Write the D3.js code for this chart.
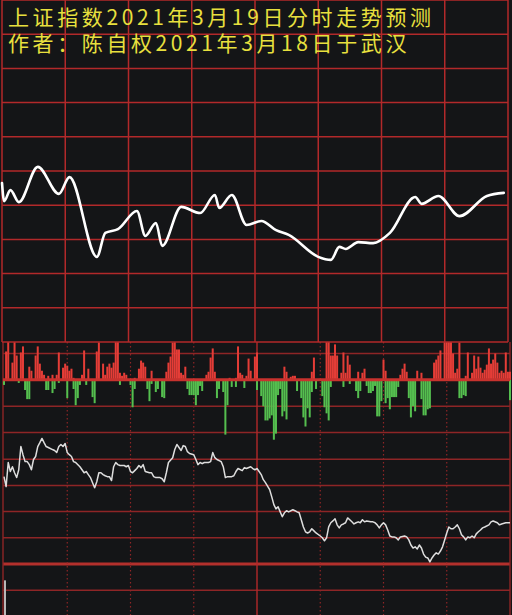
<!DOCTYPE html>
<html>
<head>
<meta charset="utf-8">
<script src="https://d3js.org/d3.v7.min.js"></script>
<style>
  html, body { margin: 0; padding: 0; background: #141517; overflow: hidden; }
  svg { display: block; }
</style>
</head>
<body>
<div id="chart"></div>
<script>
// title text
const titleLines = ['上证指数2021年3月19日分时走势预测', '作者：陈自权2021年3月18日于武汉'];

// forecast curve for 3/19 : [minute, index]
const forecast = [
  [0, 3459.5], [1, 3454.2], [4, 3457.4], [8, 3453.9], [17, 3464.2], [27, 3456.3], [32, 3461.2],
  [45, 3437.9], [49, 3444.9], [55, 3446.0], [64, 3451.3], [68, 3444.0], [73, 3447.8], [76, 3441.1],
  [85, 3452.5], [94, 3450.7], [101, 3456.0], [103, 3452.2], [109, 3456.0], [116, 3447.2],
  [123, 3448.4], [130, 3445.7], [136, 3444.3], [150, 3437.9], [156, 3437.0], [160, 3440.8],
  [163, 3440.2], [169, 3442.2], [176, 3441.9], [184, 3444.9], [196, 3455.4], [199, 3453.4],
  [207, 3455.7], [217, 3449.8], [230, 3455.7], [238, 3456.6]
];
const forecastCenter = 3463;
const forecastStep = 10;

// money flow bars of 3/18 : [minute, amount]
const flowIn = [
  [1, 28], [2, 39], [4, 17], [5, 39], [6, 24], [8, 27], [9, 33], [12, 13], [13, 9], [15, 24],
  [16, 33], [17, 16], [18, 9], [19, 5], [21, 4], [23, 5], [25, 5], [26, 27], [28, 12], [29, 16],
  [30, 14], [31, 9], [32, 11], [33, 2], [37, 5], [38, 29], [40, 11], [44, 28], [45, 37], [47, 16],
  [48, 5], [49, 13], [50, 16], [51, 12], [52, 17], [53, 39], [54, 39], [55, 7], [56, 4], [57, 7],
  [58, 5], [62, 2], [64, 11], [65, 19], [66, 17], [67, 13], [70, 9], [77, 8], [78, 17], [79, 23],
  [80, 37], [81, 39], [82, 30], [83, 30], [84, 7], [85, 5], [86, 13], [96, 5], [97, 8], [98, 22],
  [99, 31], [100, 8], [107, 2], [110, 2], [111, 33], [112, 7], [113, 5], [115, 4], [116, 21],
  [117, 9], [119, 23], [120, 27], [133, 13], [134, 8], [136, 3], [137, 4], [138, 4], [146, 8],
  [147, 22], [153, 39], [154, 39], [155, 24], [156, 24], [157, 35], [158, 24], [160, 7], [161, 27],
  [162, 7], [163, 24], [164, 15], [168, 8], [170, 7], [171, 11], [180, 20], [181, 9], [188, 5],
  [189, 11], [190, 16], [191, 8], [196, 9], [198, 7], [204, 17], [205, 20], [206, 24], [207, 29],
  [209, 39], [210, 39], [211, 39], [212, 39], [213, 26], [214, 7], [215, 11], [216, 37], [219, 4],
  [220, 27], [222, 7], [223, 24], [224, 11], [225, 23], [226, 12], [227, 7], [228, 10], [229, 15],
  [230, 31], [231, 16], [232, 20], [233, 26], [234, 17], [235, 7], [236, 9], [237, 7], [238, 27],
  [239, 8], [240, 8]
];
const flowOut = [
  [0, 5], [7, 3], [10, 10], [11, 19], [12, 19], [20, 10], [21, 10], [23, 13], [24, 9], [26, 3],
  [30, 18], [33, 9], [34, 25], [35, 18], [36, 5], [39, 5], [42, 17], [43, 23], [55, 5], [60, 5],
  [61, 27], [62, 9], [68, 9], [69, 21], [70, 4], [72, 12], [73, 9], [75, 17], [76, 18], [87, 9],
  [88, 15], [89, 15], [90, 15], [91, 25], [92, 15], [93, 6], [94, 11], [101, 18], [102, 9],
  [104, 12], [105, 54], [106, 25], [108, 7], [110, 7], [114, 8], [120, 10], [122, 16], [123, 26],
  [124, 40], [125, 40], [126, 38], [127, 35], [128, 59], [129, 53], [130, 15], [131, 9], [132, 36],
  [133, 31], [134, 39], [139, 11], [141, 18], [142, 37], [143, 46], [144, 28], [145, 37], [146, 12],
  [148, 9], [151, 16], [152, 27], [153, 33], [154, 40], [155, 7], [161, 7], [164, 4], [167, 11],
  [168, 18], [169, 11], [172, 6], [173, 13], [174, 13], [175, 11], [176, 6], [177, 36], [178, 36],
  [179, 21], [181, 23], [182, 18], [183, 29], [184, 17], [185, 17], [186, 17], [187, 7], [192, 18],
  [193, 37], [194, 26], [195, 31], [198, 19], [199, 35], [200, 35], [201, 29], [202, 28], [216, 18],
  [217, 18], [218, 15], [219, 16], [240, 20]
];
const flowStep = 26;

// index of 3/18 : [minute, index]
const price = [
  [0, 3475.0], [1, 3471.7], [2, 3479.7], [3, 3476.7], [4, 3478.3], [5, 3476.3], [6, 3474.7],
  [7, 3477.3], [8, 3485.0], [9, 3482.3], [10, 3480.0], [11, 3480.0], [12, 3479.0], [13, 3477.3],
  [14, 3480.7], [15, 3481.7], [16, 3485.0], [17, 3486.3], [18, 3487.7], [19, 3486.3], [20, 3485.0],
  [21, 3484.7], [23, 3484.0], [24, 3483.7], [25, 3483.0], [26, 3485.0], [27, 3485.7], [28, 3485.0],
  [29, 3486.0], [30, 3483.0], [31, 3482.3], [32, 3481.7], [33, 3480.0], [34, 3479.7], [36, 3478.3],
  [37, 3477.3], [38, 3476.3], [39, 3476.7], [40, 3475.7], [41, 3474.7], [42, 3473.0], [43, 3471.3],
  [44, 3473.3], [45, 3476.3], [46, 3476.3], [47, 3475.7], [48, 3475.3], [49, 3475.0], [50, 3475.0],
  [51, 3473.7], [52, 3478.3], [53, 3479.7], [54, 3479.0], [55, 3478.7], [57, 3478.7], [58, 3478.3],
  [59, 3478.7], [60, 3476.7], [61, 3476.3], [62, 3477.0], [63, 3477.7], [64, 3478.7], [65, 3478.0],
  [66, 3479.0], [67, 3476.7], [69, 3476.3], [70, 3476.3], [71, 3475.0], [72, 3474.7], [74, 3474.7],
  [75, 3474.3], [76, 3473.3], [77, 3476.3], [78, 3479.7], [80, 3481.3], [81, 3484.0], [82, 3485.7],
  [83, 3484.7], [84, 3483.7], [85, 3485.3], [86, 3485.0], [87, 3483.3], [88, 3482.7], [90, 3482.3],
  [91, 3480.7], [92, 3479.0], [93, 3479.7], [94, 3479.3], [95, 3479.7], [97, 3479.7], [98, 3480.0],
  [99, 3483.0], [100, 3481.3], [101, 3480.7], [103, 3480.0], [104, 3478.3], [105, 3474.7],
  [106, 3475.0], [108, 3475.0], [109, 3475.3], [110, 3476.7], [111, 3477.7], [113, 3477.0],
  [114, 3478.0], [115, 3477.7], [117, 3478.3], [118, 3477.7], [119, 3477.3], [120, 3477.7],
  [121, 3476.7], [122, 3475.7], [123, 3474.0], [124, 3473.0], [126, 3470.7], [127, 3468.3],
  [128, 3465.7], [129, 3464.3], [130, 3465.0], [131, 3463.3], [132, 3461.7], [133, 3463.0],
  [134, 3463.7], [135, 3463.3], [137, 3464.0], [138, 3463.7], [139, 3463.3], [140, 3463.0],
  [141, 3460.7], [142, 3458.3], [143, 3456.7], [144, 3456.3], [145, 3456.7], [146, 3457.7],
  [147, 3457.0], [148, 3456.3], [150, 3455.3], [151, 3454.7], [152, 3453.7], [153, 3454.7],
  [154, 3458.3], [155, 3459.7], [156, 3460.3], [157, 3461.0], [158, 3459.0], [159, 3458.0],
  [160, 3459.0], [161, 3459.3], [162, 3459.7], [163, 3461.3], [164, 3460.7], [165, 3460.0],
  [166, 3459.3], [167, 3459.7], [168, 3460.0], [169, 3459.7], [170, 3460.7], [171, 3460.0],
  [172, 3460.3], [174, 3460.0], [175, 3460.0], [176, 3459.7], [177, 3459.0], [178, 3458.0],
  [179, 3459.0], [180, 3459.7], [181, 3459.0], [182, 3457.3], [183, 3455.3], [184, 3455.0],
  [185, 3455.0], [186, 3454.7], [187, 3454.0], [188, 3455.0], [190, 3455.3], [191, 3455.0],
  [192, 3454.0], [193, 3452.3], [194, 3451.3], [195, 3451.7], [196, 3451.0], [197, 3452.3],
  [198, 3451.3], [199, 3449.3], [200, 3448.3], [201, 3448.0], [202, 3446.7], [203, 3448.0],
  [204, 3449.0], [205, 3449.7], [206, 3449.3], [207, 3450.3], [208, 3451.7], [209, 3454.0],
  [210, 3456.3], [211, 3458.3], [212, 3457.7], [213, 3457.7], [214, 3458.3], [215, 3459.0],
  [216, 3457.7], [217, 3455.7], [218, 3455.0], [219, 3454.0], [220, 3455.0], [221, 3454.7],
  [222, 3455.3], [223, 3454.7], [224, 3456.0], [225, 3456.7], [226, 3457.3], [227, 3458.0],
  [228, 3458.3], [230, 3459.0], [231, 3460.0], [232, 3460.3], [234, 3459.7], [235, 3459.0],
  [236, 3459.3], [238, 3459.7], [239, 3459.7], [240, 3459.7]
];
const prevClose = 3446;
const priceStep = 8.7;

// volume (only the opening bar shows)
const volume = [[0, 125]];

const W = 512, H = 615;
const bg = '#141517';
const gridRed = '#b2292a';
const darkRed = '#8e2526';

const svg = d3.select('#chart').append('svg').attr('width', W).attr('height', H);
svg.append('rect').attr('width', W).attr('height', H).attr('fill', bg);

// ---------- lower part : real 3/18 chart ----------
const xb = d3.scaleLinear().domain([0, 240]).range([4, 510]);
const yFlow = d3.scaleLinear().domain([-2 * flowStep, flowStep]).range([432.6, 353.5]);
const yPrice = d3.scaleLinear().domain([prevClose - 5 * priceStep, prevClose + 5 * priceStep]).range([695, 433]);
const yVol = d3.scaleLinear().domain([0, 140]).range([700, 566]);

const lower = svg.append('g');

// horizontal grid
lower.selectAll('.fgrid').data([-2, -1, 1].map(d => d * flowStep))
  .enter().append('line')
  .attr('x1', 3).attr('x2', 510)
  .attr('y1', d => yFlow(d)).attr('y2', d => yFlow(d))
  .attr('stroke', darkRed).attr('stroke-width', 1.5);

lower.selectAll('.pgrid').data(d3.range(-2, 5).map(n => prevClose + n * priceStep))
  .enter().append('line')
  .attr('x1', 3).attr('x2', 510)
  .attr('y1', d => yPrice(d)).attr('y2', d => yPrice(d))
  .attr('stroke', d => d === prevClose ? '#b3302c' : darkRed)
  .attr('stroke-width', d => d === prevClose ? 3 : 1.5);

// dotted time lines
lower.selectAll('.tgrid').data([30, 60, 90, 150, 180, 210])
  .enter().append('line')
  .attr('x1', d => xb(d)).attr('x2', d => xb(d))
  .attr('y1', 342).attr('y2', H)
  .attr('stroke', darkRed).attr('stroke-width', 1.2)
  .attr('stroke-dasharray', '1.5,2.5');

// borders and midday line
lower.selectAll('.vborder').data([0, 120, 240])
  .enter().append('line')
  .attr('x1', d => xb(d) - (d === 0 ? 1 : 0)).attr('x2', d => xb(d) - (d === 0 ? 1 : 0))
  .attr('y1', 342).attr('y2', H)
  .attr('stroke', d => d === 120 ? gridRed : darkRed).attr('stroke-width', 1.4);

// flow bars
lower.selectAll('.inbar').data(flowIn)
  .enter().append('rect')
  .attr('x', d => xb(d[0]) - 1).attr('width', 2)
  .attr('y', d => yFlow(d[1])).attr('height', d => yFlow(0) - yFlow(d[1]))
  .attr('fill', '#e53d37');

lower.selectAll('.outbar').data(flowOut)
  .enter().append('rect')
  .attr('x', d => xb(d[0]) - 1).attr('width', 2)
  .attr('y', yFlow(0)).attr('height', d => yFlow(-d[1]) - yFlow(0))
  .attr('fill', '#55bf4f');

// flow zero line
lower.append('line')
  .attr('x1', 3).attr('x2', 510)
  .attr('y1', yFlow(0)).attr('y2', yFlow(0))
  .attr('stroke', '#c8322e').attr('stroke-width', 3);

// volume
lower.selectAll('.vol').data(volume)
  .enter().append('rect')
  .attr('x', d => xb(d[0])).attr('width', 2)
  .attr('y', d => yVol(d[1])).attr('height', d => yVol(0) - yVol(d[1]))
  .attr('fill', '#b8b8b8');

// price line
lower.append('path')
  .datum(price)
  .attr('fill', 'none')
  .attr('stroke', '#dedede')
  .attr('stroke-width', 1.5)
  .attr('stroke-linejoin', 'round')
  .attr('d', d3.line().x(d => xb(d[0])).y(d => yPrice(d[1])));

// ---------- upper part : forecast ----------
const xt = d3.scaleLinear().domain([0, 240]).range([2, 508]);
const yt = d3.scaleLinear()
  .domain([forecastCenter - 5 * forecastStep, forecastCenter + 5 * forecastStep])
  .range([342, 0]);

const upper = svg.append('g');
upper.append('rect').attr('width', W).attr('height', 342).attr('fill', bg);

upper.selectAll('.hgrid').data(d3.range(-5, 6).map(n => forecastCenter + n * forecastStep))
  .enter().append('line')
  .attr('x1', 2).attr('x2', 508)
  .attr('y1', d => yt(d)).attr('y2', d => yt(d))
  .attr('stroke', gridRed).attr('stroke-width', 1.5);

upper.selectAll('.vgrid').data(d3.range(0, 241, 30))
  .enter().append('line')
  .attr('x1', d => xt(d)).attr('x2', d => xt(d))
  .attr('y1', 0).attr('y2', 342)
  .attr('stroke', gridRed).attr('stroke-width', 1.5);

upper.append('path')
  .datum(forecast)
  .attr('fill', 'none')
  .attr('stroke', '#ffffff')
  .attr('stroke-width', 2.6)
  .attr('stroke-linecap', 'round')
  .attr('d', d3.line().curve(d3.curveMonotoneX).x(d => xt(d[0])).y(d => yt(d[1])));

upper.selectAll('.title').data(titleLines)
  .enter().append('text')
  .attr('x', 8)
  .attr('y', (d, i) => 25 + i * 26)
  .attr('fill', '#e8e03e')
  .attr('font-family', '"Noto Sans CJK SC", sans-serif')
  .attr('font-size', 21)
  .attr('letter-spacing', 3.6)
  .text(d => d);
</script>
</body>
</html>
